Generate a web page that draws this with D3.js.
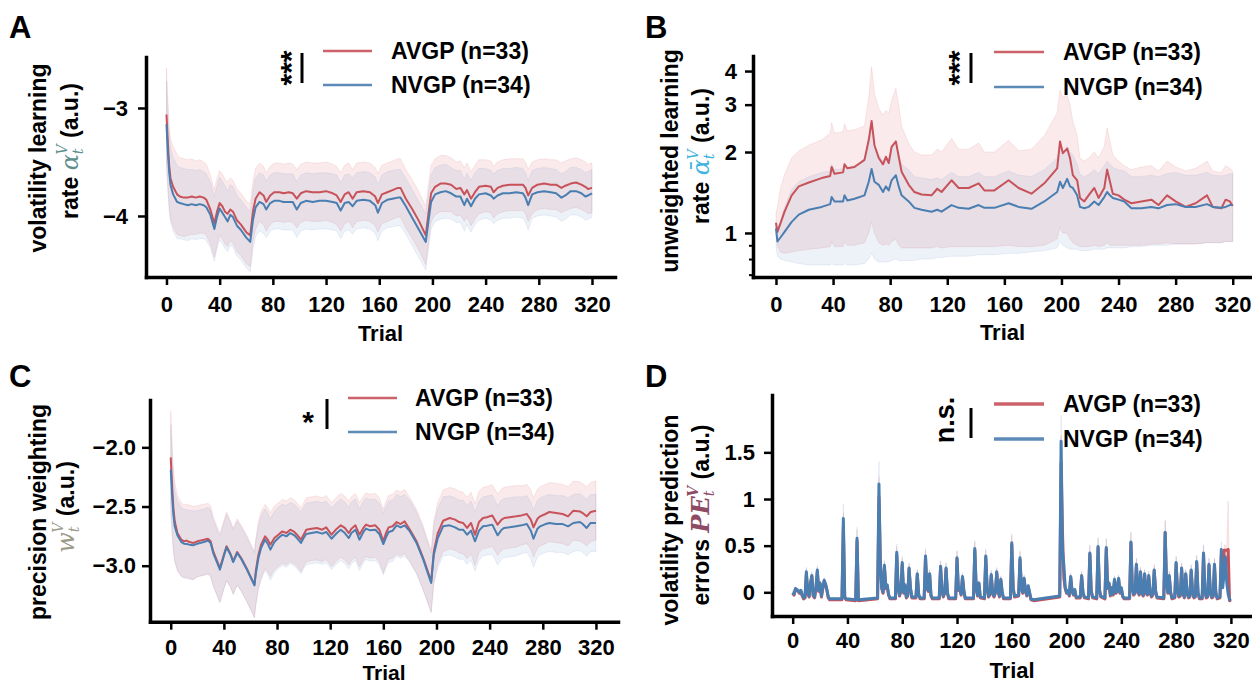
<!DOCTYPE html>
<html><head><meta charset="utf-8">
<script src="https://cdn.jsdelivr.net/npm/d3@7"></script>
<style>
body{margin:0;background:#fff;}
svg text{font-family:"Liberation Sans",Arial,sans-serif;font-weight:bold;fill:#000;}
</style></head><body>
<svg id="chart" width="1252" height="685"></svg>
<script>
// ---------------- shared ----------------
const trialTicks = [0,40,80,120,160,200,240,280,320];
const groupNames = ["AVGP (n=33)","NVGP (n=34)"];
const panelLetters = ["A","B","C","D"];
const sigLabels = ["***","***","*","n.s."];

// ---------------- Panel A: volatility learning rate ----------------
const aTrials = [0,1,2,3,5,8,10,13,16,19,22,25,28,30,33,36,38,40,42,44,46,48,50,53,56,60,63,65,67,70,73,75,78,81,85,88,92,95,98,101,105,110,115,120,125,128,131,134,137,140,143,148,153,157,159,162,166,170,174,176,180,185,190,195,197,199,202,206,210,214,218,221,224,226,229,232,235,240,244,246,249,253,258,263,268,270,272,275,279,284,289,293,297,300,304,308,312,315,317,320];
const aAvgp = [-3.06,-3.31,-3.53,-3.65,-3.73,-3.80,-3.82,-3.83,-3.83,-3.82,
-3.83,-3.82,-3.83,-3.85,-3.94,-4.07,-3.96,-3.88,-3.91,-3.96,
-3.98,-3.94,-3.96,-4.04,-4.08,-4.15,-4.18,-3.96,-3.84,-3.78,
-3.81,-3.87,-3.81,-3.78,-3.78,-3.79,-3.78,-3.79,-3.84,-3.79,
-3.77,-3.78,-3.78,-3.77,-3.79,-3.81,-3.87,-3.80,-3.78,-3.84,
-3.78,-3.77,-3.78,-3.82,-3.88,-3.80,-3.78,-3.76,-3.74,-3.74,
-3.84,-3.94,-4.05,-4.18,-3.98,-3.79,-3.73,-3.70,-3.70,-3.71,
-3.75,-3.74,-3.80,-3.76,-3.84,-3.78,-3.73,-3.72,-3.73,-3.78,
-3.74,-3.72,-3.71,-3.71,-3.71,-3.74,-3.81,-3.74,-3.71,-3.70,
-3.71,-3.71,-3.74,-3.72,-3.70,-3.69,-3.71,-3.73,-3.75,-3.74];
const aNvgp = [-3.15,-3.40,-3.59,-3.71,-3.80,-3.87,-3.88,-3.89,-3.90,-3.89,
-3.90,-3.89,-3.90,-3.92,-3.99,-4.12,-4.01,-3.93,-3.97,-4.01,
-4.05,-3.99,-4.01,-4.09,-4.13,-4.20,-4.24,-4.04,-3.92,-3.87,
-3.89,-3.94,-3.88,-3.86,-3.86,-3.87,-3.87,-3.87,-3.94,-3.88,
-3.86,-3.87,-3.86,-3.86,-3.87,-3.88,-3.95,-3.88,-3.87,-3.91,
-3.86,-3.85,-3.86,-3.90,-3.97,-3.88,-3.85,-3.84,-3.83,-3.83,
-3.91,-4.02,-4.13,-4.24,-4.05,-3.87,-3.80,-3.78,-3.77,-3.79,
-3.82,-3.82,-3.90,-3.84,-3.91,-3.84,-3.80,-3.79,-3.81,-3.84,
-3.81,-3.79,-3.79,-3.78,-3.79,-3.83,-3.90,-3.80,-3.78,-3.77,
-3.78,-3.79,-3.83,-3.81,-3.77,-3.77,-3.79,-3.82,-3.81,-3.79];
const aAvgpSem = [0.43,0.40,0.38,0.37,0.37,0.37,0.36,0.36,0.35,0.35,
0.34,0.34,0.33,0.33,0.32,0.31,0.31,0.30,0.30,0.30,
0.30,0.29,0.29,0.29,0.29,0.29,0.29,0.28,0.28,0.27,
0.27,0.27,0.27,0.27,0.27,0.27,0.27,0.27,0.27,0.27,
0.27,0.27,0.27,0.27,0.27,0.27,0.27,0.27,0.27,0.27,
0.27,0.27,0.27,0.27,0.27,0.27,0.27,0.27,0.27,0.27,
0.27,0.27,0.27,0.27,0.27,0.26,0.26,0.26,0.26,0.25,
0.25,0.25,0.25,0.25,0.25,0.25,0.25,0.24,0.24,0.24,
0.24,0.24,0.24,0.24,0.24,0.24,0.24,0.24,0.23,0.23,
0.23,0.23,0.23,0.23,0.23,0.23,0.23,0.23,0.23,0.23];
const aNvgpSem = [0.40,0.37,0.35,0.34,0.34,0.34,0.33,0.33,0.33,0.32,
0.32,0.32,0.31,0.31,0.30,0.30,0.29,0.29,0.29,0.29,
0.28,0.28,0.28,0.28,0.28,0.28,0.28,0.27,0.27,0.27,
0.27,0.26,0.26,0.26,0.26,0.26,0.26,0.26,0.26,0.26,
0.26,0.26,0.26,0.26,0.26,0.26,0.26,0.26,0.26,0.26,
0.26,0.26,0.26,0.26,0.26,0.26,0.26,0.26,0.26,0.26,
0.26,0.26,0.26,0.26,0.26,0.25,0.25,0.25,0.25,0.24,
0.24,0.24,0.24,0.24,0.24,0.24,0.24,0.23,0.23,0.23,
0.23,0.23,0.23,0.23,0.23,0.23,0.23,0.22,0.22,0.22,
0.22,0.22,0.22,0.22,0.22,0.22,0.22,0.22,0.22,0.22];
const aYTicks = [-3,-4];

// ---------------- Panel B: unweighted learning rate (log axis) ----------------
const bTrials = [0,1,3,6,11,16,23,32,38,39,41,47,48,50,55,62,65,67,69,72,75,77,79,81,84,86,88,93,97,102,109,113,116,123,128,135,142,146,153,163,170,179,188,197,199,201,204,206,208,211,213,216,219,223,226,230,232,234,236,240,244,249,256,263,268,274,280,287,294,302,306,312,315,318,320];
const bAvgp = [1.09,1.01,1.08,1.20,1.38,1.49,1.54,1.60,1.63,1.76,
1.66,1.68,1.80,1.74,1.76,1.87,2.22,2.61,2.12,1.90,
1.80,1.92,1.82,2.09,2.19,1.92,1.69,1.51,1.42,1.39,
1.38,1.46,1.42,1.57,1.47,1.47,1.53,1.44,1.44,1.57,
1.47,1.40,1.53,1.74,2.19,1.98,2.06,1.90,1.64,1.57,
1.35,1.31,1.38,1.47,1.35,1.47,1.72,1.55,1.40,1.38,
1.33,1.29,1.31,1.33,1.27,1.38,1.31,1.25,1.29,1.38,
1.25,1.235,1.33,1.31,1.26];
const bNvgp = [1.04,0.93,0.96,1.01,1.10,1.17,1.22,1.25,1.28,1.36,
1.31,1.31,1.38,1.32,1.34,1.38,1.55,1.73,1.55,1.51,
1.42,1.49,1.44,1.57,1.64,1.49,1.38,1.31,1.24,1.22,
1.20,1.22,1.20,1.27,1.24,1.23,1.27,1.24,1.24,1.29,
1.25,1.23,1.31,1.42,1.55,1.47,1.59,1.49,1.47,1.38,
1.25,1.235,1.25,1.31,1.27,1.36,1.42,1.38,1.35,1.33,
1.31,1.235,1.235,1.25,1.235,1.27,1.28,1.25,1.25,1.28,
1.25,1.24,1.25,1.27,1.27];
const bAvgpHi = [1.19,1.25,1.45,1.65,1.90,2.02,2.12,2.22,2.35,2.57,
2.35,2.38,2.55,2.40,2.42,2.50,3.20,4.15,3.30,2.90,
2.75,2.85,2.80,3.10,3.45,3.00,2.50,2.15,2.00,1.95,
1.95,2.05,2.00,2.25,2.05,2.05,2.16,2.00,2.00,2.21,
2.02,2.05,2.30,2.80,3.40,3.20,3.25,3.00,2.60,2.30,
1.90,1.85,1.90,2.00,1.90,2.10,2.46,2.20,1.95,1.85,
1.78,1.72,1.76,1.78,1.70,1.85,1.76,1.70,1.74,1.85,
1.70,1.68,1.78,1.74,1.70];
const bAvgpLo = [1.02,0.90,0.85,0.84,0.85,0.86,0.87,0.88,0.89,0.93,
0.89,0.89,0.93,0.90,0.90,0.92,1.00,1.10,1.00,0.92,
0.90,0.91,0.90,0.93,0.95,0.90,0.88,0.88,0.88,0.88,
0.88,0.89,0.88,0.89,0.89,0.89,0.89,0.89,0.89,0.90,
0.89,0.89,0.90,0.95,1.05,1.00,1.00,0.95,0.92,0.90,
0.89,0.89,0.89,0.90,0.89,0.90,0.92,0.90,0.90,0.90,
0.90,0.90,0.90,0.91,0.91,0.92,0.91,0.91,0.91,0.92,
0.92,0.92,0.93,0.93,0.93];
const bNvgpHi = [1.10,1.05,1.10,1.25,1.45,1.55,1.62,1.68,1.70,1.80,
1.72,1.73,1.82,1.75,1.78,1.85,2.10,2.45,2.10,1.95,
1.85,1.92,1.88,2.05,2.20,1.95,1.80,1.72,1.62,1.60,
1.58,1.60,1.58,1.68,1.62,1.62,1.68,1.62,1.62,1.70,
1.64,1.62,1.72,1.90,2.10,2.00,2.10,2.00,1.95,1.80,
1.65,1.62,1.65,1.72,1.66,1.78,1.85,1.80,1.75,1.72,
1.70,1.62,1.62,1.64,1.62,1.66,1.68,1.64,1.64,1.68,
1.64,1.63,1.64,1.66,1.66];
const bNvgpLo = [0.88,0.82,0.80,0.79,0.78,0.77,0.76,0.76,0.76,0.77,
0.76,0.76,0.77,0.76,0.76,0.77,0.80,0.84,0.80,0.78,
0.78,0.78,0.78,0.79,0.80,0.79,0.79,0.79,0.79,0.80,
0.80,0.81,0.81,0.82,0.82,0.82,0.83,0.83,0.83,0.84,
0.84,0.85,0.86,0.88,0.93,0.90,0.88,0.87,0.87,0.87,
0.86,0.86,0.86,0.87,0.87,0.87,0.88,0.88,0.88,0.88,
0.88,0.89,0.89,0.90,0.90,0.90,0.91,0.91,0.91,0.92,
0.92,0.92,0.93,0.93,0.93];
const bMajorTicks = [1,2,3,4];
const bMinorTicks = [0.7,0.8,0.9];

// ---------------- Panel C: precision weighting ----------------
const cTrials = [0,1,2,3,5,8,10,12,14,17,20,22,25,28,30,32,35,37,40,42,45,47,50,53,57,60,63,64,66,68,71,73,75,78,81,84,87,90,93,95,98,100,102,106,110,114,117,121,125,128,131,134,136,139,142,145,147,150,154,157,160,162,164,167,170,173,176,180,185,190,196,198,201,205,210,214,217,220,223,226,229,232,235,238,242,246,249,251,255,260,264,268,271,273,276,278,282,285,290,295,299,303,308,310,313,316,320];
const cAvgp = [-2.085,-2.316,-2.513,-2.625,-2.724,-2.780,-2.794,-2.788,-2.800,-2.808,
-2.794,-2.788,-2.780,-2.772,-2.794,-2.879,-2.963,-3.019,-2.907,-2.836,
-2.901,-2.963,-2.884,-2.935,-3.019,-3.090,-3.160,-3.047,-2.907,-2.822,
-2.752,-2.780,-2.822,-2.766,-2.738,-2.710,-2.724,-2.696,-2.715,-2.738,
-2.780,-2.738,-2.696,-2.687,-2.681,-2.696,-2.676,-2.738,-2.687,-2.659,
-2.681,-2.724,-2.687,-2.659,-2.738,-2.681,-2.653,-2.667,-2.659,-2.696,
-2.794,-2.724,-2.676,-2.667,-2.631,-2.648,-2.625,-2.696,-2.794,-2.935,
-3.132,-2.879,-2.724,-2.620,-2.597,-2.611,-2.631,-2.639,-2.681,-2.639,
-2.738,-2.631,-2.597,-2.591,-2.575,-2.653,-2.611,-2.597,-2.591,-2.583,
-2.575,-2.563,-2.611,-2.676,-2.603,-2.583,-2.563,-2.546,-2.555,-2.563,
-2.583,-2.535,-2.541,-2.555,-2.583,-2.546,-2.535];
const cNvgp = [-2.189,-2.400,-2.569,-2.667,-2.743,-2.800,-2.814,-2.817,-2.822,-2.828,
-2.814,-2.808,-2.800,-2.788,-2.808,-2.893,-2.977,-3.033,-2.918,-2.845,
-2.907,-2.969,-2.893,-2.941,-3.025,-3.095,-3.166,-3.070,-2.935,-2.850,
-2.780,-2.814,-2.864,-2.800,-2.766,-2.738,-2.752,-2.724,-2.743,-2.766,
-2.808,-2.766,-2.732,-2.724,-2.715,-2.729,-2.715,-2.772,-2.724,-2.696,
-2.724,-2.766,-2.724,-2.696,-2.780,-2.715,-2.687,-2.701,-2.696,-2.732,
-2.817,-2.760,-2.715,-2.704,-2.659,-2.676,-2.659,-2.710,-2.808,-2.946,
-3.146,-2.907,-2.766,-2.667,-2.659,-2.676,-2.696,-2.696,-2.738,-2.704,
-2.794,-2.704,-2.667,-2.662,-2.653,-2.743,-2.696,-2.681,-2.676,-2.667,
-2.659,-2.648,-2.704,-2.772,-2.687,-2.667,-2.648,-2.639,-2.648,-2.648,
-2.667,-2.639,-2.631,-2.648,-2.681,-2.639,-2.639];
const cAvgpSem = [0.39,0.36,0.34,0.33,0.32,0.31,0.31,0.31,0.31,0.31,
0.30,0.30,0.30,0.30,0.30,0.29,0.29,0.29,0.29,0.29,
0.28,0.28,0.28,0.28,0.28,0.28,0.28,0.28,0.28,0.28,
0.27,0.27,0.27,0.27,0.27,0.27,0.27,0.27,0.27,0.27,
0.27,0.27,0.27,0.27,0.27,0.27,0.27,0.27,0.27,0.27,
0.27,0.27,0.27,0.27,0.27,0.27,0.27,0.27,0.27,0.27,
0.27,0.27,0.27,0.27,0.27,0.27,0.27,0.27,0.27,0.27,
0.26,0.26,0.26,0.26,0.26,0.26,0.26,0.26,0.26,0.26,
0.26,0.26,0.26,0.26,0.26,0.26,0.26,0.26,0.26,0.26,
0.25,0.25,0.25,0.25,0.25,0.25,0.25,0.25,0.25,0.25,
0.25,0.25,0.25,0.25,0.25,0.25,0.25];
const cNvgpSem = [0.38,0.35,0.32,0.30,0.29,0.29,0.29,0.29,0.29,0.29,
0.28,0.28,0.28,0.28,0.28,0.28,0.28,0.28,0.28,0.28,
0.27,0.27,0.27,0.27,0.27,0.27,0.27,0.27,0.27,0.27,
0.26,0.26,0.26,0.26,0.26,0.26,0.26,0.26,0.26,0.26,
0.26,0.26,0.26,0.26,0.26,0.26,0.26,0.26,0.26,0.26,
0.26,0.26,0.26,0.26,0.26,0.26,0.26,0.26,0.26,0.26,
0.26,0.26,0.26,0.26,0.26,0.26,0.26,0.26,0.26,0.26,
0.25,0.25,0.25,0.25,0.25,0.25,0.25,0.25,0.25,0.25,
0.25,0.25,0.25,0.25,0.25,0.25,0.25,0.25,0.25,0.25,
0.24,0.24,0.24,0.24,0.24,0.24,0.24,0.24,0.24,0.24,
0.24,0.24,0.24,0.24,0.24,0.24,0.24];
const cYTicks = [-2.0,-2.5,-3.0];

// ---------------- Panel D: volatility prediction errors ----------------
const dTrials = [0,1,2,3,4,5,6,7,8,9,
10,11,12,13,14,15,16,17,18,19,
20,21,22,23,24,25,26,27,36,37,
38,39,46,47,48,62,63,64,65,66,
67,68,69,70,71,75,76,77,78,79,
80,81,82,83,84,85,86,87,90,91,
92,93,96,97,98,99,100,101,102,107,
108,109,110,111,112,113,114,119,120,121,
122,123,124,125,126,132,133,134,135,136,
137,140,141,142,143,144,145,146,147,148,
149,150,151,152,153,154,159,160,161,162,
165,166,167,168,169,170,171,172,173,174,
176,195,196,197,198,199,200,201,202,203,
204,205,206,207,210,211,212,213,216,217,
218,219,222,223,224,225,228,229,230,231,
232,233,234,235,236,237,238,239,240,241,
242,246,247,248,249,250,251,252,253,254,
255,256,257,258,259,260,261,262,263,264,
265,266,271,272,273,274,275,276,277,279,
280,281,282,283,284,285,286,287,288,289,
290,291,292,293,294,295,296,297,299,300,
301,302,303,304,305,306,307,308,309,310,
312,313,314,315,316,317,318,319,320];
const dNvgp = [0.00,-0.02,0.04,0.03,0.02,0.00,0.02,-0.03,-0.06,-0.05,
0.22,0.00,-0.04,0.10,0.18,-0.03,-0.05,0.05,0.24,0.02,
0.10,-0.04,0.05,0.13,0.09,0.03,-0.05,-0.07,-0.07,0.79,
-0.05,-0.07,-0.08,0.58,-0.08,-0.06,1.16,0.30,0.05,0.00,
0.29,0.05,0.08,-0.02,-0.06,-0.06,0.43,0.05,-0.03,0.02,
0.32,0.00,0.08,-0.05,-0.03,0.26,0.05,-0.05,-0.05,0.20,
-0.02,-0.06,-0.06,0.39,0.05,0.02,0.20,-0.03,-0.06,-0.06,
0.28,0.02,-0.04,0.00,0.26,0.00,-0.06,-0.06,0.37,0.03,
0.05,-0.02,0.17,0.02,-0.06,-0.06,0.47,0.05,-0.03,0.10,
-0.05,-0.06,0.39,0.05,-0.04,-0.02,0.19,0.00,-0.04,0.00,
0.22,0.02,-0.04,0.14,0.00,-0.06,-0.06,0.53,0.05,-0.04,
-0.03,0.37,0.05,0.00,0.15,0.02,-0.03,0.07,0.00,-0.07,
-0.08,-0.04,1.62,0.45,0.30,0.05,0.00,0.02,-0.03,0.17,
0.02,-0.02,0.03,-0.05,-0.05,0.18,0.00,-0.05,-0.06,0.42,
0.02,-0.05,-0.06,0.49,0.03,-0.04,-0.06,0.48,0.05,0.10,
-0.03,0.05,-0.02,0.14,0.00,0.02,0.15,0.00,0.05,-0.04,
-0.06,-0.06,0.54,0.05,-0.02,0.00,0.30,0.02,-0.02,0.22,
0.00,-0.03,0.20,0.00,-0.02,0.18,0.00,-0.04,-0.02,0.24,
0.02,-0.05,-0.06,0.64,0.10,0.00,0.18,0.00,-0.06,-0.05,
0.32,0.02,-0.04,-0.03,0.26,0.00,-0.05,0.20,0.00,-0.05,
-0.04,0.24,0.00,-0.05,-0.04,0.33,0.00,-0.06,-0.06,0.42,
0.02,-0.05,-0.04,0.30,0.00,-0.05,-0.04,0.30,0.00,-0.06,
-0.05,0.46,0.05,0.20,0.38,0.10,-0.02,-0.08,-0.07];
const dAvgp = [-0.01,-0.03,0.03,0.02,0.01,-0.01,0.01,-0.04,-0.07,-0.06,
0.20,-0.01,-0.05,0.09,0.17,-0.04,-0.06,0.04,0.22,0.01,
0.09,-0.05,0.04,0.12,0.08,0.02,-0.06,-0.08,-0.08,0.70,
-0.05,-0.08,-0.09,0.55,-0.09,-0.07,1.02,0.35,0.04,-0.01,
0.27,0.04,0.07,-0.03,-0.07,-0.07,0.40,0.04,-0.04,0.01,
0.30,-0.01,0.07,-0.06,-0.04,0.25,0.04,-0.06,-0.06,0.19,
-0.03,-0.07,-0.07,0.37,0.04,0.01,0.19,-0.04,-0.07,-0.07,
0.27,0.01,-0.05,-0.01,0.25,-0.01,-0.07,-0.07,0.36,0.02,
0.04,-0.03,0.16,0.01,-0.07,-0.07,0.45,0.04,-0.04,0.09,
-0.06,-0.07,0.37,0.04,-0.05,-0.03,0.18,-0.01,-0.05,-0.01,
0.21,0.01,-0.05,0.13,-0.01,-0.07,-0.07,0.51,0.04,-0.05,
-0.04,0.35,0.04,-0.01,0.14,0.01,-0.04,0.06,-0.01,-0.08,
-0.09,-0.05,1.38,0.65,0.15,0.04,-0.01,0.01,-0.04,0.16,
0.01,-0.03,0.02,-0.06,-0.06,0.17,-0.01,-0.06,-0.07,0.41,
0.01,-0.06,-0.07,0.48,0.02,-0.05,-0.07,0.47,0.04,0.09,
-0.04,0.04,-0.03,0.13,-0.01,0.01,0.14,-0.01,0.04,-0.05,
-0.07,-0.07,0.53,0.04,-0.03,-0.01,0.29,0.01,-0.03,0.21,
-0.01,-0.04,0.19,-0.01,-0.03,0.17,-0.01,-0.05,-0.03,0.23,
0.01,-0.06,-0.07,0.64,0.09,-0.01,0.17,-0.01,-0.07,-0.06,
0.31,0.01,-0.05,-0.04,0.25,-0.01,-0.06,0.19,-0.01,-0.06,
-0.05,0.23,-0.01,-0.06,-0.05,0.32,-0.01,-0.07,-0.07,0.41,
0.01,-0.06,-0.05,0.29,-0.01,-0.06,-0.05,0.29,-0.01,-0.07,
-0.06,0.40,0.10,0.45,0.45,0.45,0.46,-0.09,-0.08];
const dNvgpSem = [0.02,0.02,0.02,0.02,0.02,0.02,0.02,0.02,0.01,0.01,
0.05,0.01,0.01,0.03,0.04,0.01,0.01,0.02,0.05,0.01,
0.03,0.01,0.02,0.03,0.02,0.01,0.01,0.01,0.01,0.16,
0.01,0.01,0.01,0.12,0.01,0.01,0.24,0.06,0.02,0.01,
0.06,0.02,0.02,0.01,0.01,0.01,0.09,0.02,0.01,0.01,
0.07,0.01,0.02,0.01,0.01,0.06,0.02,0.01,0.01,0.05,
0.01,0.01,0.01,0.08,0.02,0.01,0.05,0.01,0.01,0.01,
0.06,0.01,0.01,0.01,0.06,0.01,0.01,0.01,0.08,0.01,
0.02,0.01,0.04,0.01,0.01,0.01,0.09,0.02,0.01,0.03,
0.01,0.01,0.08,0.02,0.01,0.01,0.05,0.01,0.01,0.01,
0.05,0.01,0.01,0.04,0.01,0.01,0.01,0.10,0.02,0.01,
0.01,0.08,0.02,0.01,0.04,0.01,0.01,0.02,0.01,0.01,
0.01,0.01,0.28,0.10,0.07,0.02,0.01,0.01,0.01,0.04,
0.01,0.01,0.01,0.01,0.01,0.05,0.01,0.01,0.01,0.09,
0.01,0.01,0.01,0.10,0.01,0.01,0.01,0.10,0.02,0.03,
0.01,0.02,0.01,0.04,0.01,0.01,0.04,0.01,0.02,0.01,
0.01,0.01,0.11,0.02,0.01,0.01,0.07,0.01,0.01,0.05,
0.01,0.01,0.05,0.01,0.01,0.05,0.01,0.01,0.01,0.06,
0.01,0.01,0.01,0.13,0.03,0.01,0.05,0.01,0.01,0.01,
0.07,0.01,0.01,0.01,0.06,0.01,0.01,0.05,0.01,0.01,
0.01,0.06,0.01,0.01,0.01,0.07,0.01,0.01,0.01,0.09,
0.01,0.01,0.01,0.07,0.01,0.01,0.01,0.07,0.01,0.01,
0.01,0.09,0.02,0.05,0.08,0.03,0.01,0.01,0.01];
const dAvgpSem = [0.02,0.02,0.02,0.02,0.02,0.02,0.02,0.02,0.01,0.01,
0.05,0.01,0.01,0.03,0.04,0.01,0.01,0.02,0.05,0.01,
0.03,0.01,0.02,0.03,0.02,0.01,0.01,0.01,0.01,0.15,
0.01,0.01,0.01,0.12,0.01,0.01,0.22,0.07,0.02,0.01,
0.06,0.02,0.02,0.01,0.01,0.01,0.09,0.02,0.01,0.01,
0.07,0.01,0.02,0.01,0.01,0.06,0.02,0.01,0.01,0.05,
0.01,0.01,0.01,0.08,0.02,0.01,0.05,0.01,0.01,0.01,
0.06,0.01,0.01,0.01,0.06,0.01,0.01,0.01,0.08,0.01,
0.02,0.01,0.04,0.01,0.01,0.01,0.09,0.02,0.01,0.03,
0.01,0.01,0.08,0.02,0.01,0.01,0.05,0.01,0.01,0.01,
0.05,0.01,0.01,0.04,0.01,0.01,0.01,0.10,0.02,0.01,
0.01,0.08,0.02,0.01,0.04,0.01,0.01,0.02,0.01,0.01,
0.01,0.01,0.30,0.12,0.04,0.02,0.01,0.01,0.01,0.04,
0.01,0.01,0.01,0.01,0.01,0.05,0.01,0.01,0.01,0.09,
0.01,0.01,0.01,0.10,0.01,0.01,0.01,0.10,0.02,0.03,
0.01,0.02,0.01,0.04,0.01,0.01,0.04,0.01,0.02,0.01,
0.01,0.01,0.11,0.02,0.01,0.01,0.07,0.01,0.01,0.05,
0.01,0.01,0.05,0.01,0.01,0.05,0.01,0.01,0.01,0.06,
0.01,0.01,0.01,0.13,0.03,0.01,0.05,0.01,0.01,0.01,
0.07,0.01,0.01,0.01,0.06,0.01,0.01,0.05,0.01,0.01,
0.01,0.06,0.01,0.01,0.01,0.07,0.01,0.01,0.01,0.09,
0.01,0.01,0.01,0.07,0.01,0.01,0.01,0.07,0.01,0.01,
0.01,0.08,0.03,0.06,0.05,0.05,0.52,0.01,0.01];
const dYTicks = [0,0.5,1,1.5];

// ---------------- drawing ----------------
const svg = d3.select("#chart");
const RED = "#c8525a", BLUE = "#4a7eb0";
const RED_FILL = "rgba(214,96,104,0.13)", BLUE_FILL = "rgba(90,130,190,0.11)";
const FS = 22;

function mathLabel(parent, parts){
  parts.forEach(p=>{
    const ts = parent.append("tspan").text(p.t);
    if (p.math){ ts.style("font-family","'DejaVu Serif',serif").style("font-style","italic")
      .style("font-weight", p.bold ? "bold" : "normal").style("fill", p.color); }
    if (p.size) ts.style("font-size", p.size+"px");
    if (p.dx) ts.attr("dx", p.dx);
    if (p.dy) ts.attr("dy", p.dy);
  });
}

function drawPanel(cfg){
  const g = svg.append("g");
  const x = d3.scaleLinear().domain(cfg.xDomain).range([cfg.left, cfg.right]);
  const y = (cfg.log ? d3.scaleLog() : d3.scaleLinear()).domain(cfg.yDomain).range([cfg.bottom, cfg.top]);
  const idx = d3.range(cfg.trials.length);
  const series = [
    {mean: cfg.avgp, lo: cfg.avgpLo, hi: cfg.avgpHi, fill: RED_FILL, color: RED},
    {mean: cfg.nvgp, lo: cfg.nvgpLo, hi: cfg.nvgpHi, fill: BLUE_FILL, color: BLUE}
  ];
  series.forEach(s=>{
    const area = d3.area().x(i=>x(cfg.trials[i])).y0(i=>y(s.lo[i])).y1(i=>y(s.hi[i]));
    g.append("path").attr("d", area(idx)).attr("fill", s.fill)
      .attr("stroke", s.fill).attr("stroke-width", 1);
  });
  series.forEach(s=>{
    const line = d3.line().x(i=>x(cfg.trials[i])).y(i=>y(s.mean[i]));
    g.append("path").attr("d", line(idx)).attr("fill","none").attr("stroke", s.color)
      .attr("stroke-width", cfg.lineW).attr("stroke-linejoin","round");
  });

  // axes
  const xAxis = d3.axisBottom(x).tickValues(trialTicks).tickSize(8).tickPadding(cfg.xPad).tickSizeOuter(0);
  const gx = g.append("g").attr("transform", `translate(0,${cfg.bottom})`).call(xAxis);
  gx.selectAll("text").style("font-size",FS+"px");
  const yAxis = d3.axisLeft(y).tickValues(cfg.yTicks).tickSize(8).tickPadding(cfg.yPad).tickSizeOuter(0)
    .tickFormat(cfg.yFmt);
  const gy = g.append("g").attr("transform", `translate(${cfg.left},0)`).call(yAxis);
  gy.selectAll("text").style("font-size",FS+"px");
  if (cfg.minor){
    const gm = g.append("g").attr("transform", `translate(${cfg.left},0)`)
      .call(d3.axisLeft(y).tickValues(cfg.minor).tickSize(4).tickFormat(""));
    gm.select(".domain").remove();
    gm.selectAll("line").attr("stroke-width",2);
  }
  [gx, gy].forEach(a=>{
    a.select(".domain").attr("stroke-width",3.5).attr("stroke-linecap","square");
    a.selectAll(".tick line").attr("stroke-width",2.5);
  });

  // x label
  g.append("text").attr("x",(cfg.left+cfg.right)/2).attr("y",cfg.trialY).attr("text-anchor","middle")
    .style("font-size",cfg.trialFS+"px").text("Trial");

  // y label (two lines, rotated)
  g.append("text").attr("transform",`translate(${cfg.yl1[0]},${cfg.yl1[1]}) rotate(-90)`)
    .attr("text-anchor","middle").style("font-size",(FS+1)+"px").text(cfg.ylab1);
  const l2 = g.append("text").attr("transform",`translate(${cfg.yl2[0]},${cfg.yl2[1]}) rotate(-90)`)
    .attr("text-anchor","middle").style("font-size",(FS+1)+"px");
  mathLabel(l2, cfg.ylab2);

  // panel letter
  g.append("text").attr("x",cfg.letter[0]).attr("y",cfg.letter[1]).style("font-size","31px").text(cfg.letterText);

  // significance + legend
  const L = cfg.legend;
  if (L.sigRotate){
    g.append("text").attr("transform",`translate(${L.sig[0]},${L.sig[1]}) rotate(-90)`)
      .attr("text-anchor","middle").style("font-size", L.sigSize+"px").text(cfg.sig);
  } else {
    g.append("text").attr("x",L.sig[0]).attr("y",L.sig[1]).attr("text-anchor","middle")
      .style("font-size", L.sigSize+"px").text(cfg.sig);
  }
  g.append("line").attr("x1",L.bar[0]).attr("x2",L.bar[0]).attr("y1",L.bar[1]).attr("y2",L.bar[2])
    .attr("stroke","#000").attr("stroke-width",3);
  [RED, BLUE].forEach((c,k)=>{
    g.append("line").attr("x1",L.lx[0]).attr("x2",L.lx[1]).attr("y1",L.ly[k]).attr("y2",L.ly[k])
      .attr("stroke",c).attr("stroke-width",L.lw).attr("stroke-opacity",0.9);
    g.append("text").attr("x",L.tx).attr("y",L.ly[k]+8).style("font-size","23px").text(groupNames[k]);
  });
}

drawPanel({
  trials: aTrials, avgp: aAvgp, nvgp: aNvgp,
  avgpLo: aAvgp.map((m,i)=>m-aAvgpSem[i]), avgpHi: aAvgp.map((m,i)=>m+aAvgpSem[i]),
  nvgpLo: aNvgp.map((m,i)=>m-aNvgpSem[i]), nvgpHi: aNvgp.map((m,i)=>m+aNvgpSem[i]),
  left:146, right:615, top:57, bottom:277, xDomain:[-15.4,337.3], yDomain:[-4.565,-2.528],
  yTicks: aYTicks, yFmt: d3.format("d"), yPad: 10, xPad: 11, lineW: 2,
  trialY: 341, trialFS: 22, yl1:[46,158], yl2:[78,151],
  ylab1: "volatility learning",
  ylab2: [{t:"rate "},{t:"\u03B1",math:true,color:"#5e8f8c",size:24},{t:"t",math:true,color:"#5e8f8c",size:14,dy:5},
          {t:"V",math:true,color:"#5e8f8c",size:14,dx:-6,dy:-16},{t:" (a.u.)",dy:11}],
  letter:[9,38], letterText: panelLetters[0], sig: sigLabels[0],
  legend:{sigRotate:true, sig:[301,68], sigSize:30, bar:[302,53,83], lx:[323,372], ly:[51,85], tx:391, lw:2.5}
});

drawPanel({
  trials: bTrials, avgp: bAvgp, nvgp: bNvgp,
  avgpLo: bAvgpLo, avgpHi: bAvgpHi, nvgpLo: bNvgpLo, nvgpHi: bNvgpHi,
  left:753, right:1252, top:56, bottom:277, xDomain:[-16.1,333.5], yDomain:[0.686,4.55], log:true,
  yTicks: bMajorTicks, minor: bMinorTicks, yFmt: d3.format("d"), yPad: 8, xPad: 11, lineW: 2,
  trialY: 340, trialFS: 22, yl1:[678,161], yl2:[709,156],
  ylab1: "unweighted learning",
  ylab2: [{t:"rate "},{t:"\u03B1\u0304",math:true,color:"#3db2de",size:24},{t:"t",math:true,color:"#3db2de",size:14,dy:5},
          {t:"V",math:true,color:"#3db2de",size:14,dx:-6,dy:-16},{t:" (a.u.)",dy:11}],
  letter:[645,38], letterText: panelLetters[1], sig: sigLabels[1],
  legend:{sigRotate:true, sig:[969,68], sigSize:30, bar:[971,53,83], lx:[994,1044], ly:[52,87], tx:1063, lw:2.5}
});

drawPanel({
  trials: cTrials, avgp: cAvgp, nvgp: cNvgp,
  avgpLo: cAvgp.map((m,i)=>m-cAvgpSem[i]), avgpHi: cAvgp.map((m,i)=>m+cAvgpSem[i]),
  nvgpLo: cNvgp.map((m,i)=>m-cNvgpSem[i]), nvgpHi: cNvgp.map((m,i)=>m+cNvgpSem[i]),
  left:150, right:618, top:400, bottom:621.7, xDomain:[-15.6,336.6], yDomain:[-3.473,-1.600],
  yTicks: cYTicks, yFmt: d3.format(".1f"), yPad: 6, xPad: 10, lineW: 2,
  trialY: 680, trialFS: 21, yl1:[46,512], yl2:[74,507],
  ylab1: "precision weighting",
  ylab2: [{t:"w",math:true,color:"#9c9a8a",size:24},{t:"t",math:true,color:"#9c9a8a",size:14,dy:5},
          {t:"V",math:true,color:"#9c9a8a",size:14,dx:-6,dy:-16},{t:" (a.u.)",dy:11}],
  letter:[9,387], letterText: panelLetters[2], sig: sigLabels[2],
  legend:{sigRotate:false, sig:[308,432], sigSize:30, bar:[327,399,429], lx:[348,397], ly:[398,432], tx:415, lw:2.5}
});

drawPanel({
  trials: dTrials, avgp: dAvgp, nvgp: dNvgp,
  avgpLo: dAvgp.map((m,i)=>m-dAvgpSem[i]), avgpHi: dAvgp.map((m,i)=>m+dAvgpSem[i]),
  nvgpLo: dNvgp.map((m,i)=>m-dNvgpSem[i]), nvgpHi: dNvgp.map((m,i)=>m+dNvgpSem[i]),
  left:772, right:1252, top:395, bottom:616, xDomain:[-15.1,335.4], yDomain:[-0.254,2.115],
  yTicks: dYTicks, yFmt: d=>String(d), yPad: 9, xPad: 8, lineW: 3,
  trialY: 678, trialFS: 22, yl1:[678,520], yl2:[709,515],
  ylab1: "volatility prediction",
  ylab2: [{t:"errors "},{t:"PE",math:true,bold:true,color:"#8e4b63",size:24},{t:"t",math:true,color:"#8e4b63",size:14,dy:5},
          {t:"V",math:true,bold:true,color:"#8e4b63",size:14,dx:-6,dy:-16},{t:" (a.u.)",dy:11}],
  letter:[645,387], letterText: panelLetters[3], sig: sigLabels[3],
  legend:{sigRotate:true, sig:[954,420], sigSize:27, bar:[971,408,438], lx:[994,1044], ly:[404,439], tx:1063, lw:3.5}
});
</script>
</body></html>
